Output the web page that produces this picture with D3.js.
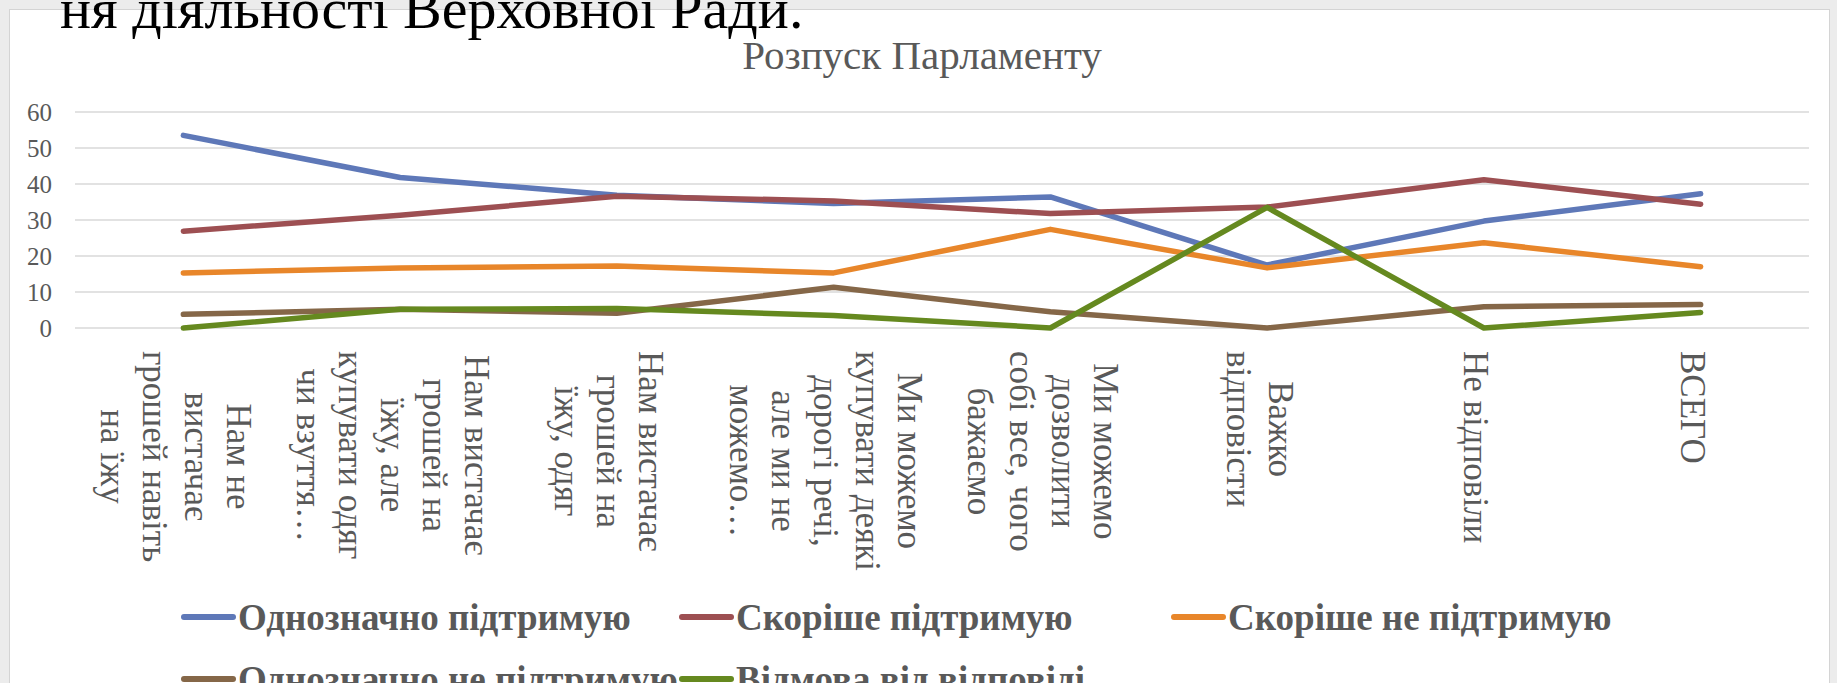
<!DOCTYPE html>
<html>
<head>
<meta charset="utf-8">
<script src="https://cdn.jsdelivr.net/npm/d3@7"></script>
<style>
  body { margin: 0; background: #ececec; overflow: hidden; }
  svg { display: block; }
  text { font-family: "Liberation Serif", "DejaVu Serif", serif; }
</style>
</head>
<body>
<svg id="chart" width="1837" height="683"></svg>
<script>
// categories, wrapped the way the axis shows them
var categories = [
  "Нам не\nвистачає\nгрошей навіть\nна їжу",
  "Нам вистачає\nгрошей на\nїжу, але\nкупувати одяг\nчи взуття…",
  "Нам вистачає\nгрошей на\nїжу, одяг",
  "Ми можемо\nкупувати деякі\nдорогі речі,\nале ми не\nможемо…",
  "Ми можемо\nдозволити\nсобі все, чого\nбажаємо",
  "Важко\nвідповісти",
  "Не відповіли",
  "ВСЕГО"
];

var seriesNames = ["Однозначно підтримую", "Скоріше підтримую", "Скоріше не підтримую",
  "Однозначно не підтримую", "Відмова від відповіді"];

var definitelySupport = [53.5, 41.8, 36.9, 34.6, 36.4, 17.5, 29.7, 37.3];
var ratherSupport     = [26.9, 31.3, 36.6, 35.3, 31.8, 33.6, 41.2, 34.4];
var ratherNotSupport  = [15.3, 16.7, 17.2, 15.3, 27.4, 16.7, 23.7, 17.0];
var definitelyNot     = [3.8, 5.2, 4.1, 11.3, 4.5, 0, 5.9, 6.5];
var refused           = [0, 5.2, 5.4, 3.5, 0, 33.5, 0, 4.3];

var yTicks = [0, 10, 20, 30, 40, 50, 60];

var seriesValues = [definitelySupport, ratherSupport, ratherNotSupport, definitelyNot, refused];
var colors = ["#5e78b8", "#9d4f52", "#e8862a", "#856748", "#65891f"];

var svg = d3.select("#chart");

// slide frame around the chart
svg.append("rect")
  .attr("x", 9.5).attr("y", 9.5)
  .attr("width", 1820).attr("height", 700)
  .attr("fill", "#fff")
  .attr("stroke", "#d4d4d4");

// slide heading, cut off at the top
svg.append("text")
  .attr("x", 60).attr("y", 28)
  .attr("font-size", 58)
  .attr("fill", "#000")
  .text("ня діяльності Верховної Ради.");

svg.append("text")
  .attr("x", 922).attr("y", 69)
  .attr("text-anchor", "middle")
  .attr("font-size", 41)
  .attr("fill", "#595959")
  .text("Розпуск Парламенту");

var plot = { left: 75, right: 1809, top: 112, bottom: 328 };

var x = d3.scaleBand()
  .domain(d3.range(categories.length))
  .range([plot.left, plot.right]);

var y = d3.scaleLinear()
  .domain([0, 60])
  .range([plot.bottom, plot.top]);

// gridlines
svg.append("g")
  .selectAll("line")
  .data(yTicks)
  .enter().append("line")
  .attr("x1", plot.left).attr("x2", plot.right)
  .attr("y1", function(d) { return y(d); })
  .attr("y2", function(d) { return y(d); })
  .attr("stroke", "#d9d9d9")
  .attr("stroke-width", 1.5);

// y axis labels
var yAxis = d3.axisLeft(y).tickValues(yTicks).tickSize(0).tickPadding(0);
var yg = svg.append("g")
  .attr("transform", "translate(52,0)")
  .call(yAxis);
yg.select(".domain").remove();
yg.selectAll("text")
  .attr("font-family", "Liberation Serif")
  .attr("font-size", 25)
  .attr("fill", "#595959");

// category labels, rotated 90 degrees
var lh = 42;
var catG = svg.append("g");
categories.forEach(function(label, i) {
  var lines = label.split("\n");
  var cx = x(i) + x.bandwidth() / 2 - 8;
  var g = catG.append("g");
  var texts = g.selectAll("text")
    .data(lines)
    .enter().append("text")
    .attr("font-size", 35)
    .attr("fill", "#595959")
    .attr("text-anchor", "middle")
    .attr("dominant-baseline", "central")
    .text(function(d) { return d; });
  var maxLen = d3.max(texts.nodes(), function(n) { return n.getComputedTextLength(); });
  texts.attr("transform", function(d, k) {
    var off = (k - (lines.length - 1) / 2) * lh;
    return "translate(" + (cx - off) + "," + (351 + maxLen / 2) + ") rotate(90)";
  });
});

// the lines
var line = d3.line()
  .x(function(d, i) { return x(i) + x.bandwidth() / 2; })
  .y(function(d) { return y(d); });

svg.append("g")
  .selectAll("path")
  .data(seriesValues)
  .enter().append("path")
  .attr("d", line)
  .attr("fill", "none")
  .attr("stroke", function(d, i) { return colors[i]; })
  .attr("stroke-width", 5.5)
  .attr("stroke-linecap", "round")
  .attr("stroke-linejoin", "round");

// legend, three columns
var legendCols = [181, 679, 1171];
var legendRows = [617, 679];
var legend = svg.append("g")
  .selectAll("g")
  .data(seriesNames)
  .enter().append("g")
  .attr("transform", function(d, i) {
    return "translate(" + legendCols[i % 3] + "," + legendRows[Math.floor(i / 3)] + ")";
  });

legend.append("line")
  .attr("x1", 3).attr("x2", 52)
  .attr("stroke", function(d, i) { return colors[i]; })
  .attr("stroke-width", 6)
  .attr("stroke-linecap", "round");

legend.append("text")
  .attr("x", 57)
  .attr("dominant-baseline", "central")
  .attr("font-size", 37)
  .attr("font-weight", "bold")
  .attr("fill", "#595959")
  .text(function(d) { return d; });
</script>
</body>
</html>
